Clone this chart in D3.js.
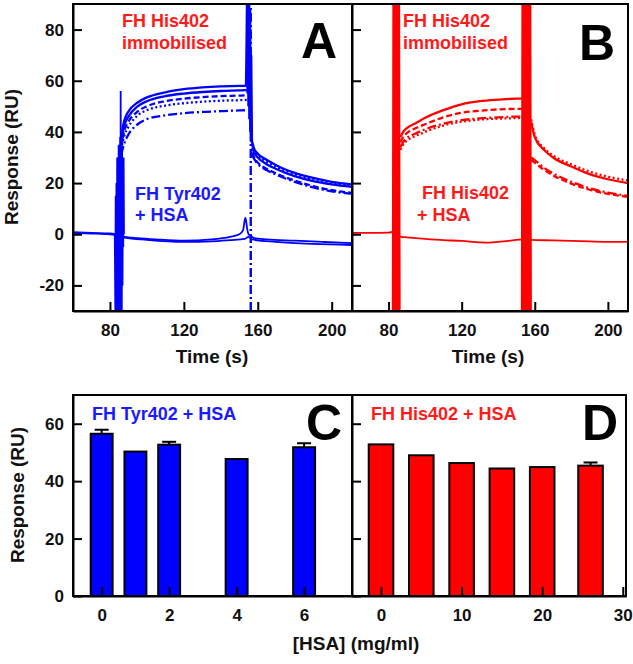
<!DOCTYPE html>
<html><head><meta charset="utf-8">
<script src="https://cdn.jsdelivr.net/npm/d3@7"></script>
<style>
body{margin:0;background:#fff;}
svg text{font-family:"Liberation Sans",Arial,sans-serif;font-weight:bold;}
</style></head>
<body><svg id="c" width="633" height="664"></svg>
<script>
// ---------- DATA ----------
const timeTicks = [80, 120, 160, 200];
const respTicks = [-20, 0, 20, 40, 60, 80];
const barTicks = [0, 20, 40, 60];
const hsaTicksC = [0, 2, 4, 6];
const hsaTicksD = [0, 10, 20, 30];

// Panel A (FH Tyr402, blue) association curves
const A_assoc1 = [[86,36],[87,42],[88,45],[90,48],[95,51.5],[100,53.5],[110,55.5],[120,56.7],[130,57.4],[140,57.8],[150,58],[154,58]];
const A_assoc2 = [[86,35],[87,40],[88,43],[90,46],[95,50],[100,52],[110,54],[120,55],[130,55.6],[140,56],[150,56.2],[154,56.3]];
const A_assoc3 = [[86,34],[88,41],[90,44],[95,48],[100,50],[110,52],[120,53],[130,53.6],[140,54],[150,54.2],[154,54.3]];
const A_assoc4 = [[86,33],[88,39],[90,42],[95,46.5],[100,48.5],[110,50.3],[120,51.2],[130,51.8],[140,52.2],[150,52.4],[154,52.5]];
const A_assoc5 = [[86,31],[88,36],[90,39],[95,43],[100,45],[110,46.5],[120,47.3],[130,47.8],[140,48.1],[150,48.4],[154,48.5]];
// Panel A dissociation curves
const A_diss1 = [[157,36],[158,33.5],[160,31.5],[165,29],[170,27],[175,25.3],[180,24],[190,22],[200,20.5],[211,19.5]];
const A_diss2 = [[157,35],[158,33],[160,31],[165,28.3],[170,26.4],[175,24.8],[180,23.5],[190,21.5],[200,20],[211,19]];
const A_diss3 = [[157,34],[158,32],[160,30],[165,27.3],[170,25.5],[175,24],[180,22.7],[190,20.8],[200,19.5],[211,18.5]];
const A_diss4 = [[157,32],[158,30],[160,28],[165,25.5],[170,23.8],[175,22.3],[180,21],[190,18.8],[200,17.2],[211,16.2]];
const A_diss5 = [[157,31],[158,29.5],[160,27.5],[165,25],[170,23.3],[175,21.8],[180,20.5],[190,18.3],[200,16.8],[211,15.8]];
// Panel A blank (FH Tyr402 + HSA)
const A_blank1 = [[60,0.8],[70,0.5],[80,0.3],[83,0],[88,-1],[95,-1.5],[105,-2],[120,-2.5],[135,-2],[145,-1],[150,0],[152,1.5],[153.3,6.5],[154.3,2],[155,0],[156,-0.5],[158,-1.5],[165,-2],[180,-2.5],[195,-3],[211,-3.5]];
const A_blank2 = [[60,0.5],[70,0.3],[80,0],[83,-0.3],[88,-1.3],[100,-2.2],[120,-3],[135,-2.8],[145,-2.3],[153,-1.8],[155,-1],[157,-2],[170,-3],[190,-3.8],[211,-4.2]];
// Panel A injection artefacts
const A_injSpike = [[82.6,0.5],[82.9,-30],[83.1,15],[83.3,-30],[83.5,20],[83.7,-30],[83.9,30],[84.1,-30],[84.3,25],[84.5,-30],[84.7,35],[84.9,-30],[85.1,30],[85.3,-30],[85.5,38],[85.7,-25],[85.8,56],[86,-30],[86.2,35],[86.4,-30],[86.6,32],[86.8,-20],[87,28],[87.2,-5],[87.4,30],[87.6,0]];
const A_endSpike = [[153.5,58],[153.8,75],[154,90],[154.3,55],[154.5,90],[154.8,50],[155,90],[155.3,45],[155.5,90],[155.8,40],[156,88],[156.3,36],[156.6,70],[157,35]];
const A_endLine = [[156.2,-30],[156.2,90]];

// Panel B (FH His402, red) association curves
const B_assoc1 = [[86.5,38],[88,40],[90,41.5],[95,43.5],[100,45.5],[110,48.5],[120,50.8],[130,52],[140,52.6],[150,53],[153,53]];
const B_assoc2 = [[86.5,36],[88,38],[90,39.5],[95,41.5],[100,43],[110,45.7],[120,47.5],[130,48.3],[140,48.8],[150,49],[153,49]];
const B_assoc3 = [[86.5,34],[88,36],[90,37.5],[95,39.5],[100,41],[110,43.2],[120,44.6],[130,45.3],[140,45.7],[150,46],[153,46]];
const B_assoc4 = [[86.5,33],[88,35],[90,36.5],[95,38.5],[100,40],[110,42.5],[120,44],[130,44.8],[140,45.2],[150,45.4],[153,45.5]];
// Panel B dissociation curves
const B_diss1 = [[158,44],[160,38],[165,33],[170,30],[180,26.5],[190,23.5],[200,21.5],[211,20]];
const B_diss2 = [[158,45],[160,39],[165,33.7],[170,30.8],[180,27.3],[190,24.5],[200,22.5],[211,21]];
const B_diss3 = [[158,30],[160,29],[165,26],[170,23.8],[180,20.5],[190,18],[200,16.3],[211,15]];
const B_diss4 = [[158,29],[160,28],[165,25.2],[170,23],[180,19.8],[190,17.4],[200,15.8],[211,14.6]];
// Panel B blank (FH His402 + HSA)
const B_blank = [[60,0.5],[70,0.5],[80,0.6],[83,1],[87,-1],[90,-1.2],[100,-1.8],[110,-2.3],[120,-2.6],[130,-3.2],[135,-3.3],[140,-3],[148,-2.4],[153,-2],[158,-2.2],[170,-2.4],[185,-2.7],[200,-3],[211,-3]];
// Panel B injection artefacts
const B_injSpike = [[82.4,-30],[82.7,90],[83,-30],[83.3,90],[83.6,-30],[83.9,90],[84.2,-30],[84.5,90],[84.8,-30],[85.1,90],[85.4,-30],[85.7,90],[86,-30]];
const B_endSpike = [[153,-30],[153.3,90],[153.6,-30],[153.9,90],[154.2,-30],[154.5,90],[154.8,-30],[155.1,90],[155.4,-30],[155.7,90],[156,-30],[156.3,90],[156.6,-30],[156.9,90],[157.2,-30],[157.5,90],[157.8,-30]];

// Panel C: FH Tyr402 + HSA
const concC = [0, 1, 2, 4, 6];
const respC = [56.5, 50.3, 52.7, 47.7, 51.8];
const errC  = [1.4, 0, 1.0, 0, 1.4];
// Panel D: FH His402 + HSA
const concD = [0, 5, 10, 15, 20, 26];
const respD = [52.8, 49.0, 46.3, 44.4, 44.9, 45.4];
const errD  = [0, 0, 0, 0, 0, 1.1];

// ---------- DRAW ----------
const BLUE = "#0000ff", RED = "#ff0000";
const BLUE_T = "#1a1aff", RED_T = "#ff1a1a";
const svg = d3.select("#c");
const defs = svg.append("defs");

const topY = d3.scaleLinear().domain([-30, 90]).range([311, 4]);
const xA = d3.scaleLinear().domain([60, 211]).range([73, 352]);
const xB = d3.scaleLinear().domain([60, 211]).range([352, 628]);
const botY = d3.scaleLinear().domain([0, 70]).range([596, 395]);
const xC = d3.scaleLinear().domain([-0.85, 7.42]).range([73, 352]);
const xD = d3.scaleLinear().domain([-3.6, 30.4]).range([352, 626]);

function clip(id, x0, y0, x1, y1) {
  defs.append("clipPath").attr("id", id).append("rect")
    .attr("x", x0).attr("y", y0).attr("width", x1 - x0).attr("height", y1 - y0);
}
clip("clipA", 73, 4, 352, 311);
clip("clipB", 352, 4, 628, 311);

const DASH = {solid: null, dash: "6,3", dot: "2,2.5", dashdot: "9,3,2,3"};

function drawLines(xs, clipId, color, list) {
  const g = svg.append("g").attr("clip-path", `url(#${clipId})`);
  const line = d3.line().x(d => xs(d[0])).y(d => topY(d[1])).curve(d3.curveMonotoneX);
  const lineL = d3.line().x(d => xs(d[0])).y(d => topY(d[1]));
  list.forEach(s => {
    g.append("path").datum(s.d)
      .attr("d", s.straight ? lineL : line)
      .attr("fill", "none").attr("stroke", color)
      .attr("stroke-width", s.w || 2.3)
      .attr("stroke-dasharray", DASH[s.dash]);
  });
}

drawLines(xA, "clipA", BLUE, [
  {d: A_injSpike, dash: "solid", w: 1.8, straight: true},
  {d: A_endSpike, dash: "solid", w: 1.8, straight: true},
  {d: A_endLine, dash: "dashdot", w: 2.4, straight: true},
  {d: A_assoc1, dash: "solid"}, {d: A_assoc2, dash: "solid"}, {d: A_assoc3, dash: "dash"},
  {d: A_assoc4, dash: "dot"}, {d: A_assoc5, dash: "dashdot"},
  {d: A_diss1, dash: "solid"}, {d: A_diss2, dash: "dot"}, {d: A_diss3, dash: "solid"},
  {d: A_diss4, dash: "dash"}, {d: A_diss5, dash: "dashdot"},
  {d: A_blank1, dash: "solid", w: 1.8}, {d: A_blank2, dash: "solid", w: 1.8}
]);
drawLines(xB, "clipB", RED, [
  {d: B_injSpike, dash: "solid", w: 2.3, straight: true},
  {d: B_endSpike, dash: "solid", w: 2.3, straight: true},
  {d: B_assoc1, dash: "solid"}, {d: B_assoc2, dash: "dash"},
  {d: B_assoc3, dash: "dashdot"}, {d: B_assoc4, dash: "dot"},
  {d: B_diss1, dash: "solid"}, {d: B_diss2, dash: "dot"},
  {d: B_diss3, dash: "dashdot"}, {d: B_diss4, dash: "dash"},
  {d: B_blank, dash: "solid", w: 1.8}
]);

// Bars
function drawBars(xs, conc, resp, err, widthUnits, color) {
  const g = svg.append("g");
  conc.forEach((c, i) => {
    const x0 = xs(c - widthUnits / 2), x1 = xs(c + widthUnits / 2);
    if (err[i] > 0) {
      const xm = xs(c), yt = botY(resp[i] + err[i]);
      g.append("line").attr("x1", xm).attr("x2", xm).attr("y1", botY(resp[i])).attr("y2", yt)
        .attr("stroke", "#000").attr("stroke-width", 2);
      g.append("line").attr("x1", xm - 7).attr("x2", xm + 7).attr("y1", yt).attr("y2", yt)
        .attr("stroke", "#000").attr("stroke-width", 2);
    }
    g.append("rect").attr("x", x0).attr("width", x1 - x0)
      .attr("y", botY(resp[i])).attr("height", botY(0) - botY(resp[i]))
      .attr("fill", color).attr("stroke", "#000").attr("stroke-width", 2);
  });
}
drawBars(xC, concC, respC, errC, 0.65, BLUE);
drawBars(xD, concD, respD, errD, 3.05, RED);

// Frames
function frame(x0, y0, x1, y1) {
  svg.append("rect").attr("x", x0).attr("y", y0).attr("width", x1 - x0).attr("height", y1 - y0)
    .attr("fill", "none").attr("stroke", "#000").attr("stroke-width", 2);
}
frame(73, 4, 352, 311); frame(352, 4, 628, 311);
frame(73, 395, 352, 596); frame(352, 395, 626, 596);

// Axes
const fmt = d => String(d);
function styleAxis(g, size) {
  g.selectAll(".domain").attr("stroke", "#000").attr("stroke-width", 2);
  g.selectAll(".tick line").attr("stroke", "#000").attr("stroke-width", 2);
  g.selectAll("text").attr("font-size", size).attr("fill", "#111")
    .attr("font-family", '"Liberation Sans",Arial,sans-serif').attr("font-weight", "bold");
}
function ax(axis, tx, ty, size) {
  const g = svg.append("g").attr("transform", `translate(${tx},${ty})`).call(axis);
  styleAxis(g, size);
  return g;
}
ax(d3.axisLeft(topY).tickValues(respTicks).tickFormat(fmt).tickSizeInner(-9).tickSizeOuter(0).tickPadding(9), 73, 0, 17);
ax(d3.axisLeft(topY).tickValues(respTicks).tickSizeInner(-9).tickSizeOuter(0).tickFormat(""), 352, 0, 17);
ax(d3.axisBottom(xA).tickValues(timeTicks).tickFormat(fmt).tickSizeInner(-9).tickSizeOuter(0).tickPadding(13), 0, 311, 17);
ax(d3.axisBottom(xB).tickValues(timeTicks).tickFormat(fmt).tickSizeInner(-9).tickSizeOuter(0).tickPadding(13), 0, 311, 17);
ax(d3.axisLeft(botY).tickValues(barTicks).tickFormat(fmt).tickSizeInner(-9).tickSizeOuter(0).tickPadding(9), 73, 0, 17);
ax(d3.axisLeft(botY).tickValues(barTicks).tickSizeInner(-9).tickSizeOuter(0).tickFormat(""), 352, 0, 17);
ax(d3.axisBottom(xC).tickValues(hsaTicksC).tickFormat(fmt).tickSizeInner(-9).tickSizeOuter(0).tickPadding(13), 0, 596, 17);
ax(d3.axisBottom(xD).tickValues(hsaTicksD).tickFormat(fmt).tickSizeInner(-9).tickSizeOuter(0).tickPadding(13), 0, 596, 17);

// Text
function txt(s, x, y, size, color, anchor, rot) {
  const t = svg.append("text").text(s).attr("font-size", size).attr("fill", color)
    .attr("text-anchor", anchor || "start");
  if (rot) t.attr("transform", `translate(${x},${y}) rotate(${rot})`);
  else t.attr("x", x).attr("y", y);
  return t;
}
txt("Response (RU)", 18, 157, 19, "#111", "middle", -90);
txt("Response (RU)", 24, 495, 19, "#111", "middle", -90);
txt("Time (s)", 212, 363, 19, "#111", "middle");
txt("Time (s)", 488, 363, 19, "#111", "middle");
txt("[HSA] (mg/ml)", 356, 650, 19, "#111", "middle");

txt("FH His402", 122, 27, 18, RED_T);
txt("immobilised", 122, 49, 18, RED_T);
txt("FH Tyr402", 135, 200, 18, BLUE_T);
txt("+ HSA", 135, 221, 18, BLUE_T);
txt("FH His402", 403, 27, 18, RED_T);
txt("immobilised", 403, 49, 18, RED_T);
txt("FH His402", 422, 199, 18, RED_T);
txt("+ HSA", 417, 221, 18, RED_T);
txt("FH Tyr402 + HSA", 92, 420, 18, BLUE_T);
txt("FH His402 + HSA", 371, 420, 18, RED_T);

txt("A", 301, 58, 50, "#000");
txt("B", 579, 60, 50, "#000");
txt("C", 306, 440, 50, "#000");
txt("D", 582, 440, 50, "#000");
</script></body></html>
